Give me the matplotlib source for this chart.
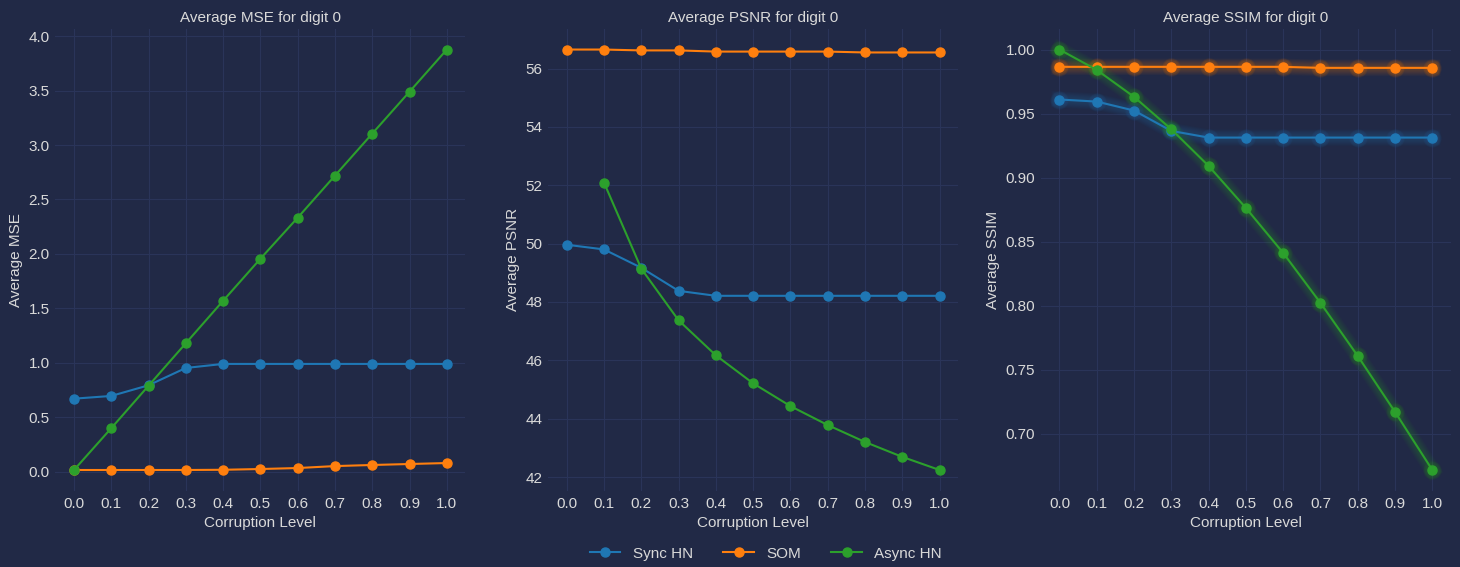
import matplotlib
matplotlib.use("Agg")
import matplotlib.pyplot as plt
import numpy as np

corruption = [0.0, 0.1, 0.2, 0.3, 0.4, 0.5, 0.6, 0.7, 0.8, 0.9, 1.0]
series_names = ["Sync HN", "SOM", "Async HN"]

mse_sync = [0.671, 0.696, 0.794, 0.953, 0.99, 0.99, 0.99, 0.99, 0.99, 0.99, 0.99]
mse_som = [0.016, 0.016, 0.016, 0.016, 0.018, 0.025, 0.034, 0.052, 0.062, 0.071, 0.080]
mse_async = [0.016, 0.40, 0.79, 1.18, 1.57, 1.956, 2.333, 2.719, 3.105, 3.49, 3.877]

psnr_sync = [49.96, 49.80, 49.17, 48.38, 48.21, 48.21, 48.21, 48.21, 48.21, 48.21, 48.21]
psnr_som = [56.65, 56.65, 56.62, 56.62, 56.58, 56.58, 56.58, 56.58, 56.55, 56.55, 56.55]
psnr_async = [np.nan, 52.09, 49.14, 47.37, 46.17, 45.21, 44.43, 43.78, 43.20, 42.69, 42.24]

ssim_sync = [0.961, 0.9594, 0.9524, 0.9365, 0.9313, 0.9313, 0.9313, 0.9313, 0.9313, 0.9313, 0.9313]
ssim_som = [0.9865, 0.9865, 0.9865, 0.9865, 0.9865, 0.9865, 0.9865, 0.9857, 0.9857, 0.9857, 0.9857]
ssim_async = [1.000, 0.9841, 0.9631, 0.9378, 0.9092, 0.8764, 0.8413, 0.8023, 0.7609, 0.7172, 0.6719]

BG = "#212946"
GRID = "#2A3459"
TXT = "#d9d9d9"
colors = ["#1f77b4", "#ff7f0e", "#2ca02c"]

plt.rcParams["font.family"] = ["Liberation Sans", "DejaVu Sans"]
plt.rcParams["font.size"] = 11

fig, axes = plt.subplots(1, 3, figsize=(14.6, 5.67), dpi=100, facecolor=BG)
fig.subplots_adjust(left=0.0379, right=0.9938, top=0.9497, bottom=0.134, wspace=0.2014)

panels = [
    ("MSE", [mse_sync, mse_som, mse_async], False),
    ("PSNR", [psnr_sync, psnr_som, psnr_async], False),
    ("SSIM", [ssim_sync, ssim_som, ssim_async], True),
]

handles = []
for ax, (name, data, glow) in zip(axes, panels):
    ax.set_facecolor(BG)
    for vals, c, lab in zip(data, colors, series_names):
        line, = ax.plot(corruption, vals, marker="o", color=c, lw=1.5, ms=6.5, label=lab, zorder=3)
        if ax is axes[0]:
            handles.append(line)
        if glow:
            n = 10
            for i in range(1, n + 1):
                ax.plot(corruption, vals, marker="o", color=c, lw=1.5 + 1.05 * i,
                        ms=6.5 + 1.05 * i * 0.6, alpha=0.3 / n, zorder=2)
    ax.set_title(f"Average {name} for digit 0", color=TXT, fontsize=11, pad=5)
    ax.set_xlabel("Corruption Level", color=TXT, fontsize=11, labelpad=4)
    ax.set_ylabel(f"Average {name}", color=TXT, fontsize=11)
    ax.set_xticks(corruption)
    ax.set_xticklabels([f"{v:.1f}" for v in corruption])
    ax.tick_params(colors=TXT, length=0, labelsize=11, pad=4)
    ax.grid(True, color=GRID, lw=0.8, zorder=0)
    ax.set_axisbelow(True)
    for s in ax.spines.values():
        s.set_visible(False)

fig.legend(handles, series_names, loc="center", ncol=3, frameon=False,
           bbox_to_anchor=(0.5245, 0.0235), fontsize=11, labelcolor=TXT)

fig.savefig("out.png", facecolor=BG, dpi=100)
